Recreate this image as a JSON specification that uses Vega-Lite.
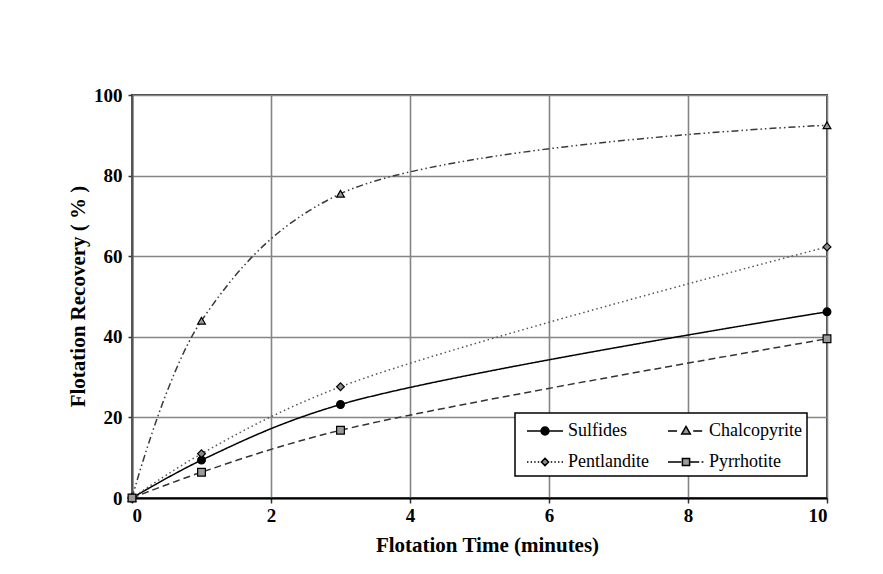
{
  "$schema": "https://vega.github.io/schema/vega-lite/v6.json",
  "width": 695,
  "height": 403,
  "autosize": {"type": "none"},
  "padding": {"left": 132, "top": 95, "right": 56, "bottom": 76},
  "background": "white",
  "config": {
    "font": "Liberation Serif",
    "view": {"stroke": "#444444", "strokeWidth": 2},
    "axis": {
      "labelFont": "Liberation Serif",
      "labelFontWeight": "bold",
      "labelFontSize": 19,
      "labelColor": "black",
      "titleFont": "Liberation Serif",
      "titleFontWeight": "bold",
      "titleFontSize": 21,
      "titleColor": "black",
      "gridColor": "#858585",
      "gridWidth": 1.6,
      "gridOpacity": 1,
      "domainColor": "black",
      "domainWidth": 2,
      "tickColor": "#333333",
      "tickWidth": 1.5,
      "tickSize": 5
    },
    "legend": {
      "strokeColor": "black",
      "strokeWidth": 1.5,
      "fillColor": "white",
      "padding": 5,
      "cornerRadius": 0,
      "labelFont": "Liberation Serif",
      "labelFontSize": 18,
      "labelFontWeight": "normal",
      "labelColor": "black"
    }
  },
  "data": {
    "values": [
      {"series": "Sulfides", "time": 0, "recovery": 0},
      {"series": "Sulfides", "time": 1, "recovery": 9.4},
      {"series": "Sulfides", "time": 3, "recovery": 23.2},
      {"series": "Sulfides", "time": 10, "recovery": 46.2},
      {"series": "Chalcopyrite", "time": 0, "recovery": 0},
      {"series": "Chalcopyrite", "time": 1, "recovery": 44},
      {"series": "Chalcopyrite", "time": 3, "recovery": 75.5},
      {"series": "Chalcopyrite", "time": 10, "recovery": 92.5},
      {"series": "Pentlandite", "time": 0, "recovery": 0},
      {"series": "Pentlandite", "time": 1, "recovery": 11},
      {"series": "Pentlandite", "time": 3, "recovery": 27.6},
      {"series": "Pentlandite", "time": 10, "recovery": 62.3},
      {"series": "Pyrrhotite", "time": 0, "recovery": 0},
      {"series": "Pyrrhotite", "time": 1, "recovery": 6.4},
      {"series": "Pyrrhotite", "time": 3, "recovery": 16.8},
      {"series": "Pyrrhotite", "time": 10, "recovery": 39.5}
    ]
  },
  "encoding": {
    "x": {
      "field": "time",
      "type": "quantitative",
      "scale": {"domain": [0, 10], "nice": false},
      "axis": {
        "title": "Flotation Time (minutes)",
        "values": [0, 2, 4, 6, 8, 10],
        "labelPadding": 3,
        "titleX": 355,
        "titleY": 53,
        "titleBaseline": "alphabetic",
        "titleAlign": "center"
      }
    },
    "y": {
      "field": "recovery",
      "type": "quantitative",
      "scale": {"domain": [0, 100], "nice": false},
      "axis": {
        "title": "Flotation Recovery ( % )",
        "values": [0, 20, 40, 60, 80, 100],
        "tickSize": 4,
        "labelPadding": 6,
        "domainColor": "#555555",
        "titleX": -54,
        "titleY": 201,
        "titleAngle": -90,
        "titleAlign": "center",
        "titleBaseline": "middle"
      }
    }
  },
  "layer": [
    {
      "mark": {"type": "line", "interpolate": "catmull-rom", "strokeWidth": 1.5},
      "encoding": {
        "stroke": {
          "field": "series",
          "type": "nominal",
          "scale": {
            "domain": ["Sulfides", "Chalcopyrite", "Pentlandite", "Pyrrhotite"],
            "range": ["#000000", "#3a3a3a", "#555555", "#333333"]
          },
          "legend": null
        },
        "strokeDash": {
          "field": "series",
          "type": "nominal",
          "scale": {
            "domain": ["Sulfides", "Chalcopyrite", "Pentlandite", "Pyrrhotite"],
            "range": [[1, 0], [7, 3, 1.5, 3, 1.5, 3], [1.5, 3], [7, 4]]
          },
          "legend": null
        }
      }
    },
    {
      "mark": {"type": "point", "filled": true, "opacity": 1, "stroke": "black", "strokeWidth": 1.2, "size": 60},
      "encoding": {
        "fill": {
          "field": "series",
          "type": "nominal",
          "scale": {
            "domain": ["Sulfides", "Chalcopyrite", "Pentlandite", "Pyrrhotite"],
            "range": ["#000000", "#9a9a9a", "#8a8a8a", "#9a9a9a"]
          },
          "legend": null
        },
        "shape": {
          "field": "series",
          "type": "nominal",
          "scale": {
            "domain": ["Sulfides", "Chalcopyrite", "Pentlandite", "Pyrrhotite"],
            "range": ["circle", "triangle-up", "diamond", "square"]
          },
          "legend": null
        }
      }
    },
    {
      "mark": {"type": "point", "filled": true, "opacity": 0, "stroke": "black"},
      "encoding": {
        "color": {
          "field": "series",
          "type": "nominal",
          "scale": {
            "domain": ["Sulfides", "Pentlandite", "Chalcopyrite", "Pyrrhotite"],
            "range": ["#000000", "#8a8a8a", "#9a9a9a", "#9a9a9a"]
          },
          "legend": {
            "title": null,
            "orient": "none",
            "legendX": 383,
            "legendY": 318,
            "columns": 2,
            "columnPadding": 12,
            "rowPadding": 9,
            "symbolSize": 576,
            "symbolStrokeWidth": 1.5,
            "symbolOpacity": 1,
            "symbolOffset": 12,
            "labelOffset": 10,
            "labelFont": "Liberation Serif",
            "labelFontSize": 18,
            "labelColor": "black",
            "labelLimit": 200
          }
        },
        "shape": {
          "field": "series",
          "type": "nominal",
          "scale": {
            "domain": ["Sulfides", "Pentlandite", "Chalcopyrite", "Pyrrhotite"],
            "range": [
              "M-1.5,0L1.5,0M-0.33,0A0.33,0.33,0,1,0,0.33,0A0.33,0.33,0,1,0,-0.33,0Z",
              "M-1.5,0L-1.38,0M-1.2,0L-1.08,0M-0.9,0L-0.78,0M-0.6,0L-0.48,0M0,-0.3L0.3,0L0,0.3L-0.3,0ZM0.48,0L0.6,0M0.78,0L0.9,0M1.08,0L1.2,0M1.38,0L1.5,0",
              "M-1.5,0L-0.75,0M0.6,0L1.35,0M0,-0.38L0.36,0.26L-0.36,0.26Z",
              "M-1.5,0L-0.4,0M-0.3,-0.3L0.3,-0.3L0.3,0.3L-0.3,0.3ZM0.3,0L1.1,0M1.3,0L1.45,0"
            ]
          },
          "legend": {
            "title": null,
            "orient": "none",
            "legendX": 383,
            "legendY": 318,
            "columns": 2,
            "columnPadding": 12,
            "rowPadding": 9,
            "symbolSize": 576,
            "symbolStrokeWidth": 1.5,
            "symbolOpacity": 1,
            "symbolOffset": 12,
            "labelOffset": 10,
            "labelFont": "Liberation Serif",
            "labelFontSize": 18,
            "labelColor": "black",
            "labelLimit": 200
          }
        }
      }
    }
  ],
  "resolve": {"scale": {"shape": "independent", "color": "independent"}}
}
